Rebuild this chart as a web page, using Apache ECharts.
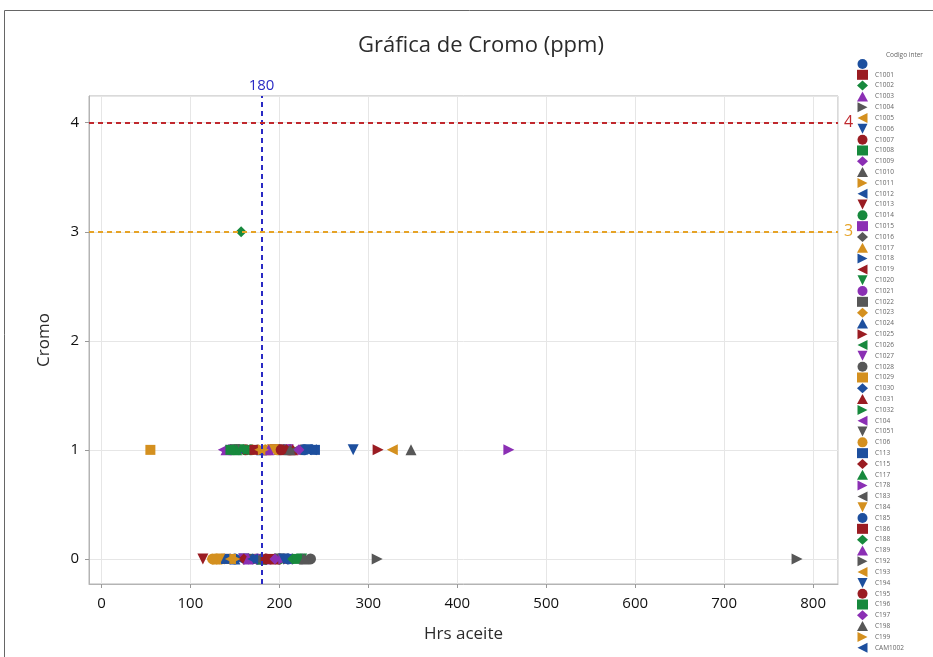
<!DOCTYPE html>
<html lang="es">
<head>
    <meta charset="UTF-8">
    <title>Gráfica de Cromo (ppm)</title>
    <script src="https://cdn.jsdelivr.net/npm/echarts@6/dist/echarts.min.js"></script>
</head>
<body style="margin:0;background:#fff;">
<div id='myChart' style='width: 933px;height:657px;'></div>
<script type="text/javascript">
    // codigos de la leyenda (el primero va en blanco)
    var codigos = ['', 'C1001', 'C1002', 'C1003', 'C1004', 'C1005', 'C1006', 'C1007', 'C1008', 'C1009',
        'C1010', 'C1011', 'C1012', 'C1013', 'C1014', 'C1015', 'C1016', 'C1017', 'C1018', 'C1019',
        'C1020', 'C1021', 'C1022', 'C1023', 'C1024', 'C1025', 'C1026', 'C1027', 'C1028', 'C1029',
        'C1030', 'C1031', 'C1032', 'C104', 'C1051', 'C106', 'C113', 'C115', 'C117', 'C178',
        'C183', 'C184', 'C185', 'C186', 'C188', 'C189', 'C192', 'C193', 'C194', 'C195',
        'C196', 'C197', 'C198', 'C199', 'CAM1002'];

    // hoja de datos: una fila por muestra (indice de codigo, hrs aceite, cromo)
    var muestraCodigo = [0, 0, 1, 1, 2, 2, 3, 3, 4, 4, 5, 5, 6, 6, 7, 7, 8, 8, 9, 9,
        10, 10, 11, 11, 12, 12, 13, 13, 14, 14, 15, 15, 16, 16, 17, 17, 18, 18, 19, 19,
        20, 20, 21, 21, 22, 22, 23, 23, 24, 24, 25, 25, 26, 26, 27, 27, 28, 28, 29, 29,
        30, 30, 31, 31, 32, 32, 33, 33, 34, 34, 35, 35, 36, 36, 37, 37, 38, 38, 39, 39,
        40, 40, 41, 41, 42, 42, 43, 43, 44, 44, 45, 45, 46, 46, 47, 47, 48, 48, 49, 49,
        50, 50, 51, 51, 52, 52, 53, 53, 54, 54];
    var hrsAceite = [150, 200, 175, 205, 157, 165, 140, 185, 310, 190, 327, 124, 283, 160, 162, 212, 150, 170, 145, 215,
        348, 180, 135, 190, 155, 230, 114, 195, 168, 200, 140, 210, 175, 205, 130, 185, 160, 220, 220, 195,
        155, 225, 145, 175, 200, 165, 138, 170, 150, 180, 311, 215, 158, 190, 210, 160, 235, 205, 55, 145,
        170, 225, 195, 215, 185, 165, 137, 220, 200, 150, 125, 198, 240, 140, 160, 208, 180, 152, 458, 205,
        175, 218, 133, 192, 210, 228, 190, 172, 215, 148, 165, 188, 782, 230, 145, 178, 205, 232, 185, 202,
        220, 145, 195, 222, 228, 212, 150, 182, 170, 236];
    var cromo = [0, 1, 0, 1, 3, 0, 1, 0, 0, 0, 1, 0, 1, 0, 1, 1, 1, 0, 0, 0,
        1, 0, 0, 1, 0, 1, 0, 1, 1, 0, 0, 0, 1, 0, 0, 1, 1, 0, 1, 0,
        1, 0, 1, 0, 1, 0, 0, 1, 0, 1, 1, 0, 1, 0, 1, 0, 0, 1, 1, 0,
        0, 1, 0, 1, 0, 1, 1, 0, 0, 1, 0, 1, 1, 0, 0, 1, 0, 1, 1, 0,
        0, 1, 0, 1, 0, 1, 0, 1, 0, 1, 0, 1, 0, 0, 0, 1, 0, 1, 0, 1,
        0, 1, 0, 1, 0, 1, 0, 1, 0, 1];

    // lineas de referencia
    var refHrs = 180;
    var refCromo = [4, 3];

    // estilo tipo Minitab: 6 colores y 7 simbolos que se repiten
    var colores = ['#1d4f9e', '#9a1c22', '#17893d', '#8b2fb4', '#575757', '#d4901f'];
    var simbolos = ['circle', 'rect', 'diamond', 'triangle',
        'path://M0,0L10,5L0,10Z', 'path://M10,0L0,5L10,10Z', 'path://M0,0L10,0L5,10Z'];
    var refColores = ['#c0282d', '#e6a326'];
    var fuente = '"Open Sans", "Noto Sans", sans-serif';

    var myChart = echarts.init(document.getElementById('myChart'));

    var series = [];
    var leyenda = [];
    for (var i = 0; i < codigos.length; i++) {
        var nombre = codigos[i] === '' ? ' ' : codigos[i];
        var data = [];
        for (var j = 0; j < muestraCodigo.length; j++) {
            if (muestraCodigo[j] == i) {
                data.push([hrsAceite[j], cromo[j]]);
            }
        }
        leyenda.push(nombre);
        series.push({
            name: nombre,
            type: 'scatter',
            symbol: simbolos[i % 7],
            symbolSize: i % 7 == 1 ? 10 : 11,
            itemStyle: {color: colores[i % 6], opacity: 1},
            emphasis: {disabled: true},
            data: data
        });
    }

    // serie vacia solo para las lineas de referencia
    var lineas = [{
        xAxis: refHrs,
        lineStyle: {color: '#2a2ac4', type: [5, 4], width: 2},
        label: {show: true, position: 'end', formatter: String(refHrs), color: '#2a2ac4', fontSize: 15, fontFamily: fuente, distance: 3}
    }];
    for (var k = 0; k < refCromo.length; k++) {
        lineas.push({
            yAxis: refCromo[k],
            lineStyle: {color: refColores[k], type: [5, 4], width: 2},
            label: {show: true, position: 'end', formatter: String(refCromo[k]), color: refColores[k], fontSize: 16, fontFamily: fuente, distance: 6}
        });
    }
    series.push({
        name: 'ref',
        type: 'scatter',
        data: [],
        z: 1,
        markLine: {silent: true, symbol: 'none', animation: false, data: lineas}
    });

    function soloCentenas(v) {
        return v % 100 == 0 ? String(v) : '';
    }

    var option = {
        animation: false,
        title: {
            text: 'Gráfica de Cromo (ppm)',
            left: 476, top: 30, textAlign: 'center',
            textStyle: {fontSize: 22, fontWeight: 'normal', color: '#2b2b2b', fontFamily: fuente}
        },
        grid: {left: 89, right: 95, top: 96, bottom: 73, show: true, borderColor: '#b4b4b4', borderWidth: 1},
        xAxis: {
            type: 'value', min: -14, max: 828, splitNumber: 8,
            name: 'Hrs aceite', nameLocation: 'middle', nameGap: 42,
            nameTextStyle: {fontSize: 17, color: '#2b2b2b', fontFamily: fuente},
            axisLine: {show: true, onZero: false, lineStyle: {color: '#b4b4b4'}},
            axisTick: {show: true, length: 4, lineStyle: {color: '#999'}},
            axisLabel: {fontSize: 15, color: '#111', fontFamily: fuente, margin: 12,
                showMinLabel: false, showMaxLabel: false, formatter: soloCentenas},
            splitLine: {show: true, lineStyle: {color: '#e6e6e6'}}
        },
        yAxis: {
            type: 'value', min: -0.23, max: 4.245, splitNumber: 5,
            name: 'Cromo', nameLocation: 'middle', nameGap: 36,
            nameTextStyle: {fontSize: 17, color: '#2b2b2b', fontFamily: fuente},
            axisLine: {show: true, onZero: false, lineStyle: {color: '#b4b4b4'}},
            axisTick: {show: true, length: 4, lineStyle: {color: '#999'}},
            axisLabel: {fontSize: 15, color: '#111', fontFamily: fuente, margin: 10,
                showMinLabel: false, showMaxLabel: false,
                formatter: function (v) { return Math.abs(v - Math.round(v)) < 1e-9 ? String(Math.round(v)) : ''; }},
            splitLine: {show: true, lineStyle: {color: '#e6e6e6'}}
        },
        legend: {
            data: leyenda,
            orient: 'vertical',
            left: 857, top: 59,
            padding: 0,
            itemWidth: 11, itemHeight: 10, itemGap: 0.81,
            selectedMode: false,
            textStyle: {fontSize: 6.5, color: '#666', fontFamily: fuente, padding: [0, 0, 0, 2]}
        },
        graphic: [
            {type: 'rect', shape: {x: 4.5, y: 10.5, width: 1000, height: 700}, style: {fill: null, stroke: '#666', lineWidth: 1}, silent: true},
            {type: 'text', left: 886, top: 52, style: {text: 'Codigo inter', fontSize: 6.5, fill: '#666', fontFamily: fuente}}
        ],
        series: series
    };
    myChart.setOption(option);
</script>
</body>
</html>
